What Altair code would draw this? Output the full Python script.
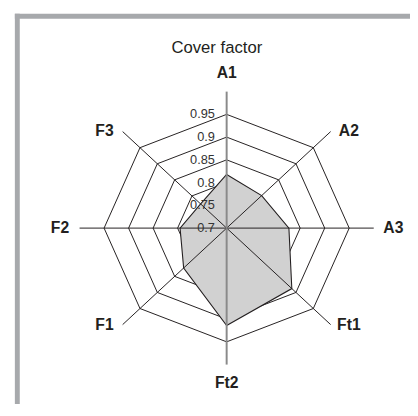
import math
import altair as alt
import pandas as pd

# ---- data ----
axes_names = ["A1", "A2", "A3", "Ft1", "Ft2", "F1", "F2", "F3"]
cover_values = [0.818, 0.801, 0.827, 0.888, 0.914, 0.824, 0.795, 0.775]
ring_levels = [0.75, 0.8, 0.85, 0.9, 0.95]
tick_values = [0.95, 0.9, 0.85, 0.8, 0.75, 0.7]
tick_labels = ["0.95", "0.9", "0.85", "0.8", "0.75", "0.7"]
title_text = "Cover factor"

R_MIN, R_MAX = 0.7, 0.95


def rad(v):
    return (v - R_MIN) / (R_MAX - R_MIN)


n = len(axes_names)
angles = [2 * math.pi * i / n for i in range(n)]

# rings
ring_rows = []
for lv in ring_levels:
    for k in range(n + 1):
        a = angles[k % n]
        r = rad(lv)
        ring_rows.append({"level": lv, "order": k, "x": r * math.sin(a), "y": r * math.cos(a)})
rings = pd.DataFrame(ring_rows)

# data polygon
poly_rows = []
for k in range(n + 1):
    a = angles[k % n]
    r = rad(cover_values[k % n])
    poly_rows.append({"order": k, "x": r * math.sin(a), "y": r * math.cos(a)})
poly = pd.DataFrame(poly_rows)

# spokes
SPOKE = 1.2
spokes = pd.DataFrame([
    {"axis": axes_names[i], "x": 0.0, "y": 0.0,
     "x2": SPOKE * math.sin(angles[i]), "y2": SPOKE * math.cos(angles[i]),
     "main": axes_names[i] in ("A1", "Ft2")}
    for i in range(n)
])

# axis labels (label ring slightly flatter on the diagonals)
LAB_STRAIGHT = 1.36
LAB_DIAG_X, LAB_DIAG_Y = 1.41, 1.21
lab_rows = []
for i in range(n):
    a = angles[i]
    diag = i % 2 == 1
    lx = (LAB_DIAG_X if diag else LAB_STRAIGHT) * math.sin(a)
    ly = (LAB_DIAG_Y if diag else LAB_STRAIGHT) * math.cos(a)
    lab_rows.append({"axis": axes_names[i], "x": lx, "y": ly})
labels = pd.DataFrame(lab_rows)

ticks = pd.DataFrame({"label": tick_labels, "x": [0.0] * len(tick_values),
                      "y": [rad(v) for v in tick_values]})

# ---- layout ----
W, H = 410, 400
CX, CY = 223.0, 220.5
SX, SY = 125.0, 116.0
xs = alt.Scale(domain=[-CX / SX, (W - CX) / SX], nice=False, zero=False)
ys = alt.Scale(domain=[-(H - CY) / SY, CY / SY], nice=False, zero=False)
X = lambda f="x": alt.X(f, type="quantitative", scale=xs, axis=None)
Y = lambda f="y": alt.Y(f, type="quantitative", scale=ys, axis=None)

ink = "#231f20"
font = "Liberation Sans"

ring_layer = alt.Chart(rings).mark_line(color=ink, strokeWidth=1).encode(
    x=X(), y=Y(), detail="level:N", order="order:Q")

poly_layer = alt.Chart(poly).mark_line(color=ink, strokeWidth=1.1, fill="#d1d1d1").encode(
    x=X(), y=Y(), order="order:Q")

spoke_minor = alt.Chart(spokes).transform_filter("!datum.main").mark_rule(
    color=ink, strokeWidth=1).encode(x=X(), y=Y(), x2="x2:Q", y2="y2:Q")
spoke_main = alt.Chart(spokes).transform_filter("datum.main").mark_rule(
    color="#8a8a8a", strokeWidth=2).encode(x=X(), y=Y(), x2="x2:Q", y2="y2:Q")

label_layer = alt.Chart(labels).mark_text(
    font=font, fontSize=16, fontWeight="bold", color=ink, align="center", baseline="middle"
).encode(x=X(), y=Y(), text="axis:N")

tick_layer = alt.Chart(ticks).mark_text(
    font=font, fontSize=13, color="#333333", align="right", baseline="middle", dx=-12
).encode(x=X(), y=Y(), text="label:N")

title_layer = alt.Chart(pd.DataFrame({"t": [title_text]})).mark_text(
    font=font, fontSize=17, color=ink, align="center", baseline="middle"
).encode(x=alt.value(CX - 10), y=alt.value(37), text="t:N")

frame_color = "#a7a9ac"
frame_top = alt.Chart(pd.DataFrame({"a": [0]})).mark_rule(
    color=frame_color, strokeWidth=5).encode(
    x=alt.value(7), x2=alt.value(W), y=alt.value(4.5))
frame_left = alt.Chart(pd.DataFrame({"a": [0]})).mark_rule(
    color=frame_color, strokeWidth=5).encode(
    x=alt.value(9.5), y=alt.value(2), y2=alt.value(H))

chart = alt.layer(
    ring_layer, poly_layer, spoke_minor, spoke_main, tick_layer, label_layer,
    title_layer, frame_top, frame_left
).properties(
    width=W, height=H, padding=0, autosize=alt.AutoSizeParams(type="none")
).configure_view(stroke=None)

chart.save("out.html", embed_options={"renderer": "svg", "actions": False})
